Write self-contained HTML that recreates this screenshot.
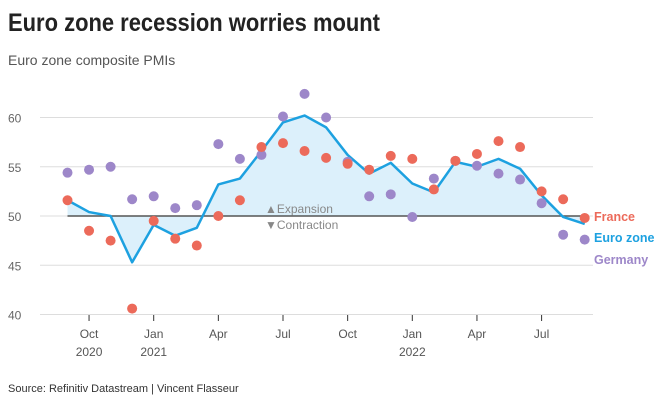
<!DOCTYPE html>
<html><head><meta charset="utf-8"><style>
body{margin:0;background:#fff;font-family:"Liberation Sans",sans-serif;}
</style></head><body>
<svg width="671" height="403" style="display:block">
<text x="8" y="31" font-size="25" font-weight="bold" fill="#222" textLength="372" lengthAdjust="spacingAndGlyphs">Euro zone recession worries mount</text>
<text x="8" y="65" font-size="14" fill="#555">Euro zone composite PMIs</text>
<g id="grid"></g>
<g id="plot"></g>
<text x="8" y="392" font-size="11" fill="#333">Source: Refinitiv Datastream | Vincent Flasseur</text>
</svg>
<script>
const months=["Sep","Oct","Nov","Dec","Jan","Feb","Mar","Apr","May","Jun","Jul","Aug","Sep","Oct","Nov","Dec","Jan","Feb","Mar","Apr","May","Jun","Jul","Aug","Sep"];
const euro=[51.6,50.4,50.0,45.3,49.1,48.0,48.8,53.2,53.8,56.6,59.5,60.2,59.0,56.2,54.3,55.4,53.3,52.4,55.5,55.0,55.8,54.8,52.1,49.9,49.2];
const france=[51.6,48.5,47.5,40.6,49.5,47.7,47.0,50.0,51.6,57.0,57.4,56.6,55.9,55.3,54.7,56.1,55.8,52.7,55.6,56.3,57.6,57.0,52.5,51.7,49.8];
const germany=[54.4,54.7,55.0,51.7,52.0,50.8,51.1,57.3,55.8,56.2,60.1,62.4,60.0,55.5,52.0,52.2,49.9,53.8,55.6,55.1,54.3,53.7,51.3,48.1,47.6];
const yTicks=[40,45,50,55,60];
const xTickIdx=[1,4,7,10,13,16,19,22];
const xTickLabels=["Oct","Jan","Apr","Jul","Oct","Jan","Apr","Jul"];
const yearIdx=[1,4,16];
const yearLabels=["2020","2021","2022"];
const NS="http://www.w3.org/2000/svg";
const X=i=>67.5+i*21.55;
const Y=v=>216-(v-50)*9.85;
function mk(t,a,p){const e=document.createElementNS(NS,t);for(const k in a)e.setAttribute(k,a[k]);p.appendChild(e);return e;}
const g=document.getElementById('grid'),p=document.getElementById('plot');
yTicks.forEach(v=>{
 const l=mk('line',{x1:40,x2:593,y1:Y(v),y2:Y(v),stroke:'#ddd','stroke-width':1},g);
 
 
 const t=mk('text',{x:8,y:Y(v)+5,'font-size':12,fill:'#666'},g);t.textContent=v;
 
 
});
xTickIdx.forEach((i,k)=>{
 mk('line',{x1:X(i),x2:X(i),y1:315,y2:321,stroke:'#333'},g);
 const t=mk('text',{x:X(i),y:338,'font-size':12,fill:'#555','text-anchor':'middle'},g);t.textContent=xTickLabels[k];
 
 
});
yearIdx.forEach((i,k)=>{
 const t=mk('text',{x:X(i),y:356,'font-size':12,fill:'#555','text-anchor':'middle'},g);t.textContent=yearLabels[k];
 
 
});
let d='M'+X(0)+','+Y(50);euro.forEach((v,i)=>d+='L'+X(i)+','+Y(v));d+='L'+X(euro.length-1)+','+Y(50)+'Z';
const a=mk('path',{d:d,fill:'#dcf0fb'},p);


const ref=mk('line',{x1:X(0),x2:X(24),y1:Y(50),y2:Y(50),stroke:'#555','stroke-width':1.5},p);


const ex=mk('text',{x:265,y:213,'font-size':12,fill:'#888'},p);ex.textContent='▲Expansion';


const ct=mk('text',{x:265,y:229,'font-size':12,fill:'#888'},p);ct.textContent='▼Contraction';


let ld='';euro.forEach((v,i)=>ld+=(i?'L':'M')+X(i)+','+Y(v));
const ln=mk('path',{d:ld,fill:'none',stroke:'#1da1e0','stroke-width':2.5,'stroke-linejoin':'round'},p);


germany.forEach((v,i)=>{const c=mk('circle',{cx:X(i),cy:Y(v),r:5,fill:'#9d87c9'},p);
 
 });
france.forEach((v,i)=>{const c=mk('circle',{cx:X(i),cy:Y(v),r:5,fill:'#ec6a5a'},p);
 
 });
[['France','#ec6a5a',221,'legend-france'],['Euro zone','#1da1e0',242,'legend-euro-zone'],['Germany','#9d87c9',264,'legend-germany']].forEach(s=>{
 const t=mk('text',{x:594,y:s[2],'font-size':12.5,'font-weight':'bold',fill:s[1]},p);t.textContent=s[0];
 
 
});
</script>
</body></html>
